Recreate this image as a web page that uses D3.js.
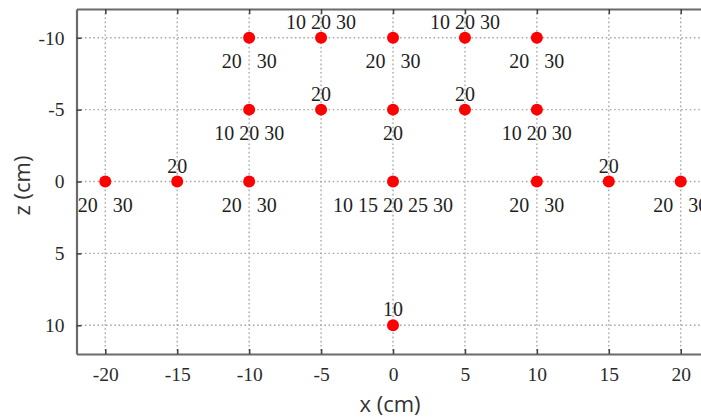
<!DOCTYPE html>
<html>
<head>
<meta charset="utf-8">
<script src="https://cdn.jsdelivr.net/npm/d3@7"></script>
<style>
  body { margin: 0; background: #fff; }
  text { white-space: pre; }
</style>
</head>
<body>
<svg id="chart"></svg>
<script>
// measurement points (x, z in cm) and the heights noted at each one
const pointX = [-20, -15, -10, -10, -10, -5, -5, 0, 0, 0, 0, 5, 5, 10, 10, 10, 15, 20];
const pointZ = [0, 0, 0, -5, -10, -10, -5, -10, -5, 0, 10, -10, -5, -10, -5, 0, 0, 0];
const pointLabels = ["20   30", "20", "20   30", "10 20 30", "20   30", "10 20 30", "20",
    "20   30", "20", "10 15 20 25 30", "10", "10 20 30", "20", "20   30", "10 20 30",
    "20   30", "20", "20   30"];
const labelSide = ["below", "above", "below", "below", "below", "above", "above",
    "below", "below", "below", "above", "above", "above", "below", "below",
    "below", "above", "below"];

const xTicks = [-20, -15, -10, -5, 0, 5, 10, 15, 20];
const zTicks = [-10, -5, 0, 5, 10];

const width = 701, height = 419;
const frameColor = "#6b6b6b";
const gridColor = "#a8a8a8";
const tickFont = "'Liberation Serif', 'DejaVu Serif', serif";
const titleFont = "'Open Sans', 'Liberation Sans', sans-serif";

const svg = d3.select("#chart").attr("width", width).attr("height", height);

const x = d3.scaleLinear().domain([-22, 22]).range([76.5, 709.5]);
const z = d3.scaleLinear().domain([-12, 12]).range([9, 354]);

const plotTop = z.range()[0], plotBottom = z.range()[1];
const plotLeft = x.range()[0], plotRight = x.range()[1];

// plain hyphen for negatives, like the original
const fmt = d => String(d);

// grid
svg.append("g").selectAll("line").data(xTicks).join("line")
    .attr("x1", d => x(d)).attr("x2", d => x(d))
    .attr("y1", plotTop).attr("y2", plotBottom)
    .attr("stroke", gridColor).attr("stroke-width", 1.4)
    .attr("stroke-dasharray", "1.6,2.6");
svg.append("g").selectAll("line").data(zTicks).join("line")
    .attr("y1", d => z(d)).attr("y2", d => z(d))
    .attr("x1", plotLeft).attr("x2", plotRight)
    .attr("stroke", gridColor).attr("stroke-width", 1.4)
    .attr("stroke-dasharray", "1.6,2.6");

// frame + inward ticks
const bottomAxis = svg.append("g")
    .attr("transform", `translate(0,${plotBottom})`)
    .call(d3.axisBottom(x).tickValues(xTicks).tickSizeInner(-5).tickSizeOuter(0).tickPadding(13)
        .tickFormat(fmt));
const topAxis = svg.append("g")
    .attr("transform", `translate(0,${plotTop})`)
    .call(d3.axisTop(x).tickValues(xTicks).tickSizeInner(-5).tickSizeOuter(0).tickFormat(""));
const leftAxis = svg.append("g")
    .attr("transform", `translate(${plotLeft},0)`)
    .call(d3.axisLeft(z).tickValues(zTicks).tickSizeInner(-5).tickSizeOuter(0).tickPadding(10)
        .tickFormat(fmt));

[bottomAxis, topAxis, leftAxis].forEach(g => {
    g.select(".domain").attr("stroke", frameColor).attr("stroke-width", 2.2);
    g.selectAll(".tick line").attr("stroke", "#444").attr("stroke-width", 1.6);
    g.selectAll(".tick text")
        .attr("fill", "#2a2a2a")
        .style("font-family", tickFont)
        .style("font-size", "19.5px");
});
leftAxis.selectAll(".tick text").attr("dx", "-2");

// points
const points = pointX.map((d, i) => ({x: d, z: pointZ[i], label: pointLabels[i], side: labelSide[i]}));

svg.append("g").selectAll("circle").data(points).join("circle")
    .attr("cx", d => x(d.x))
    .attr("cy", d => z(d.z))
    .attr("r", 6)
    .attr("fill", "#ff0000");

svg.append("g").selectAll("text").data(points).join("text")
    .attr("x", d => x(d.x))
    .attr("y", d => z(d.z) + (d.side === "above" ? -9 : 30))
    .attr("text-anchor", "middle")
    .attr("fill", "#1e1e1e")
    .style("font-family", tickFont)
    .style("font-size", "20px")
    .text(d => d.label);

// axis titles
svg.append("text")
    .attr("x", x(0) - 3)
    .attr("y", 412)
    .attr("text-anchor", "middle")
    .attr("fill", "#333")
    .style("font-family", titleFont)
    .style("font-size", "22px")
    .text("x (cm)");

svg.append("text")
    .attr("transform", `translate(30,${z(0) + 4}) rotate(-90)`)
    .attr("text-anchor", "middle")
    .attr("fill", "#333")
    .style("font-family", titleFont)
    .style("font-size", "22px")
    .text("z (cm)");
</script>
</body>
</html>
